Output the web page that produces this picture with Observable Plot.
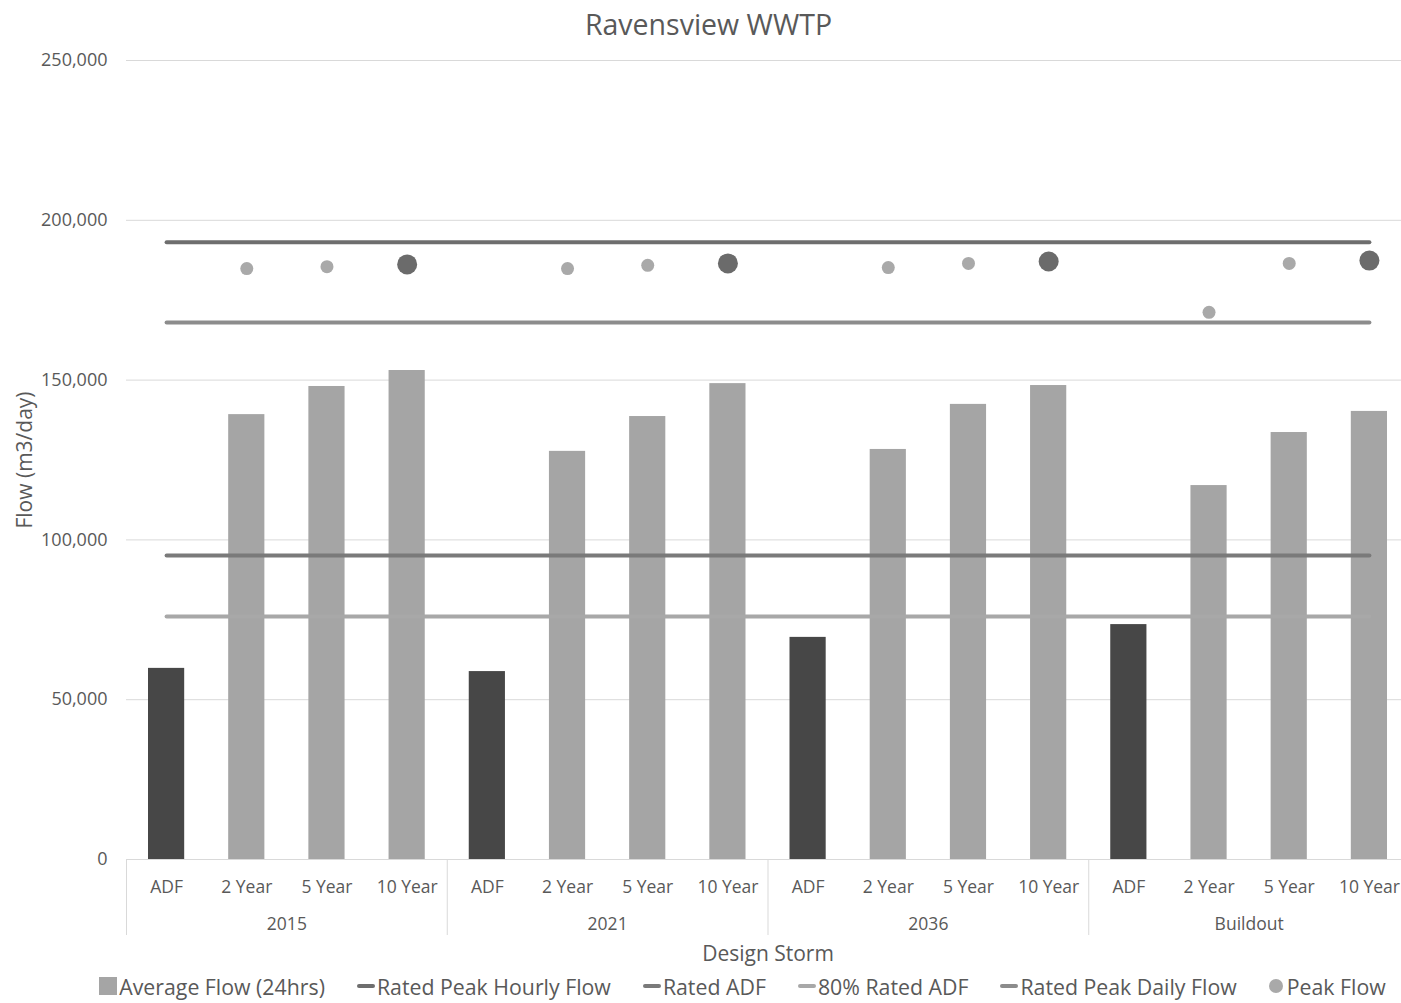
<!DOCTYPE html>
<html>
<head>
<meta charset="utf-8">
<script src="https://cdn.jsdelivr.net/npm/d3@7"></script>
<script src="https://cdn.jsdelivr.net/npm/@observablehq/plot@0.6"></script>
<style>
  body { margin: 0; background: #fff; font-family: "Open Sans", sans-serif; width: 1401px; overflow: hidden; }
  #title { height: 45px; line-height: 48px; text-align: center; font-size: 28.5px; color: #595959; padding-left: 16px; }
  #legend { display: flex; justify-content: center; align-items: center; gap: 32px; font-size: 21.3px; color: #595959; height: 34px; padding-left: 84px; white-space: nowrap; }
  .item { display: flex; align-items: center; gap: 2px; }
  .sq { width: 18px; height: 18px; display: inline-block; }
  .ln { width: 18px; height: 4px; border-radius: 2px; display: inline-block; }
  .dt { width: 14px; height: 14px; border-radius: 50%; display: inline-block; margin-right: 2px; }
  svg text { font-family: "Open Sans", sans-serif; }
</style>
</head>
<body>
<div id="title">Ravensview WWTP</div>
<div id="chart"></div>
<div id="legend"></div>
<script>
// ---- Data ----
const groups = ["2015", "2021", "2036", "Buildout"];
const storms = ["ADF", "2 Year", "5 Year", "10 Year"];
const avgFlow2015 = [59800, 139200, 148000, 153000];
const avgFlow2021 = [58800, 127700, 138600, 148900];
const avgFlow2036 = [69500, 128300, 142400, 148300];
const avgFlowBuildout = [73500, 117000, 133600, 140200];
const peakFlow2015 = [null, 184900, 185500, 186200];
const peakFlow2021 = [null, 184900, 185900, 186500];
const peakFlow2036 = [null, 185200, 186500, 187100];
const peakFlowBuildout = [null, 171200, 186500, 187400];
const ratedPeakHourlyFlow = 193100;
const ratedADF = 95100;
const rated80ADF = 76000;
const ratedPeakDailyFlow = 168000;
const yTicks = [0, 50000, 100000, 150000, 200000, 250000];

// ---- Styles ----
const cText = "#595959";
const cGrid = "#d9d9d9";
const cAdfBar = "#474747";
const cStormBar = "#a5a5a5";
const lineSeries = [
  {name: "Rated Peak Hourly Flow", value: ratedPeakHourlyFlow, color: "#6e6e6e"},
  {name: "Rated ADF", value: ratedADF, color: "#7a7a7a"},
  {name: "80% Rated ADF", value: rated80ADF, color: "#a8a8a8"},
  {name: "Rated Peak Daily Flow", value: ratedPeakDailyFlow, color: "#8c8c8c"}
];

const flows = [avgFlow2015, avgFlow2021, avgFlow2036, avgFlowBuildout];
const peaks = [peakFlow2015, peakFlow2021, peakFlow2036, peakFlowBuildout];
const rows = groups.flatMap((g, gi) => storms.map((s, si) => ({
  i: gi * 4 + si, group: g, storm: s, flow: flows[gi][si], peak: peaks[gi][si]
})));
const catTicks = rows.map(d => d.i);
const groupTicks = groups.map((g, gi) => gi * 4 + 1.5);
const sepTicks = groups.map((g, gi) => gi * 4 - 0.5);

const chart = Plot.plot({
  width: 1401,
  height: 924,
  marginLeft: 126,
  marginRight: -8,
  marginTop: 15,
  marginBottom: 110,
  style: {fontSize: "18px", color: cText, background: "#fff", overflow: "hidden"},
  x: {domain: [-0.5, 15.5]},
  y: {domain: [0, 250000]},
  marks: [
    Plot.ruleY(yTicks.slice(1), {stroke: cGrid, strokeWidth: 1}),
    Plot.ruleY([0], {stroke: cGrid, strokeWidth: 1}),
    Plot.axisY({ticks: yTicks, tickSize: 0, tickPadding: 19, tickFormat: d3.format(","),
      label: "Flow (m3/day)", labelAnchor: "center", labelOffset: 109, labelArrow: "none",
      fontSize: 18, color: cText}),
    Plot.axisX({ticks: sepTicks, tickSize: 76, tickFormat: () => "", stroke: cGrid, label: null}),
    Plot.axisX({ticks: catTicks, tickSize: 0, tickPadding: 21, tickFormat: i => storms[i % 4], label: null, fontSize: 17.5}),
    Plot.axisX({ticks: groupTicks, tickSize: 0, tickPadding: 58, tickFormat: t => groups[Math.round((t - 1.5) / 4)], label: null, fontSize: 17.5}),
    Plot.axisX({ticks: [], label: "Design Storm", labelAnchor: "center", labelOffset: 101, labelArrow: "none", fontSize: 21}),
    Plot.rectY(rows, {x1: d => d.i - 0.5, x2: d => d.i + 0.5, y: "flow", insetLeft: 22, insetRight: 22,
      fill: d => d.storm === "ADF" ? cAdfBar : cStormBar}),
    ...lineSeries.map(s => Plot.line(rows, {x: "i", y: () => s.value, stroke: s.color, strokeWidth: 4, strokeLinecap: "round"})),
    Plot.dot(rows.filter(d => d.peak != null && d.storm !== "10 Year"), {x: "i", y: "peak", r: 6.5, fill: "#a9a9a9", stroke: "none"}),
    Plot.dot(rows.filter(d => d.peak != null && d.storm === "10 Year"), {x: "i", y: "peak", r: 10, fill: "#6b6b6b", stroke: "none"})
  ]
});
// enlarge axis label text
d3.select(chart).selectAll("g[aria-label='y-axis label'] text, g[aria-label='x-axis label'] text").style("font-size", "21px");
document.getElementById("chart").appendChild(chart);

// ---- Legend ----
const legend = d3.select("#legend");
const l1 = legend.append("div").attr("class", "item");
l1.append("span").attr("class", "sq").style("background", cStormBar);
l1.append("span").text("Average Flow (24hrs)");
lineSeries.forEach(s => {
  const it = legend.append("div").attr("class", "item");
  it.append("span").attr("class", "ln").style("background", s.color);
  it.append("span").text(s.name);
});
const l6 = legend.append("div").attr("class", "item");
l6.append("span").attr("class", "dt").style("background", "#a9a9a9");
l6.append("span").text("Peak Flow");
</script>
</body>
</html>
